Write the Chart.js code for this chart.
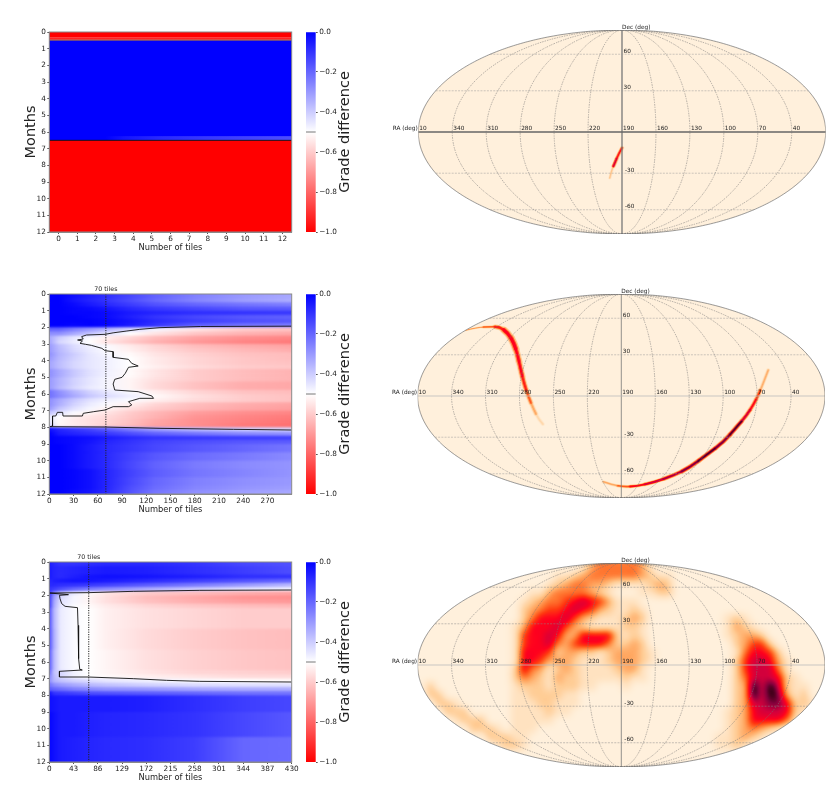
<!DOCTYPE html>
<html>
<head>
<meta charset="utf-8">
<script src="https://cdn.jsdelivr.net/npm/chart.js@4"></script>
<style>
  html, body { margin: 0; background: #fff; }
  body { position: relative; width: 830px; height: 794px; overflow: hidden; }
  canvas { position: absolute; }
</style>
</head>
<body>
<script>
// ---- heatmap data: grade difference per month band (rows) and tile count (columns)
const panel1Ticks = [0, 1, 2, 3, 4, 5, 6, 7, 8, 9, 10, 11, 12];
const panel1Tiles = [-0.5, 2.5, 3.5, 5.5, 8, 12.5];
const panel1Months = [0, 0.3, 0.38, 0.46, 0.5, 6.25, 6.5, 12];
const panel1Grade = [
  [-1, -1, -1, -1, -1, -1],
  [-0.88, -0.88, -0.88, -0.88, -0.88, -0.88],
  [-0.95, -0.95, -0.95, -0.95, -0.95, -0.95],
  [-0.7, -0.7, -0.7, -0.7, -0.7, -0.7],
  [0, 0, 0, 0, 0, 0],
  [0, 0, -0.04, -0.08, -0.11, -0.15],
  [-1, -1, -1, -1, -1, -1]
];
const panel1ContourTopX = [-0.5, 12.5];
const panel1ContourTopY = [0.49, 0.49];
const panel1ContourBottomX = [-0.5, 12.5];
const panel1ContourBottomY = [6.5, 6.5];

const panel2Ticks = [0, 30, 60, 90, 120, 150, 180, 210, 240, 270];
const panel2Tiles = [0, 12, 30, 50, 70, 100, 130, 180, 240, 300];
const panel2Months = [0, 0.25, 0.5, 0.75, 1, 1.25, 1.5, 1.75, 2, 2.25, 2.5, 2.75, 3, 3.25, 3.5, 3.75, 4, 4.25, 4.5, 4.75, 5, 5.25, 5.5, 5.75, 6, 6.25, 6.5, 6.75, 7, 7.25, 7.5, 7.75, 8, 8.25, 8.5, 8.75, 9, 9.5, 10, 10.5, 11, 11.5, 11.75, 12];
const panel2Grade = [
  [0, 0, -0.03, -0.06, -0.09, -0.14, -0.19, -0.25, -0.3, -0.33],
  [0, 0, -0.04, -0.07, -0.1, -0.15, -0.2, -0.26, -0.31, -0.34],
  [0, 0, -0.02, -0.05, -0.08, -0.12, -0.16, -0.2, -0.23, -0.25],
  [0, 0, -0.01, -0.02, -0.04, -0.08, -0.11, -0.14, -0.17, -0.18],
  [0, 0, -0.01, -0.01, -0.02, -0.05, -0.07, -0.09, -0.1, -0.11],
  [0, 0, 0, -0.01, -0.02, -0.06, -0.1, -0.14, -0.17, -0.19],
  [0, 0, 0, 0, -0.01, -0.04, -0.08, -0.12, -0.15, -0.17],
  [0, 0, -0.01, 0, -0.01, -0.05, -0.1, -0.18, -0.22, -0.24],
  [-0.2, -0.2, -0.25, -0.3, -0.35, -0.42, -0.48, -0.55, -0.6, -0.62],
  [-0.28, -0.28, -0.33, -0.38, -0.44, -0.5, -0.55, -0.61, -0.65, -0.67],
  [-0.33, -0.4, -0.45, -0.49, -0.53, -0.58, -0.63, -0.68, -0.72, -0.74],
  [-0.32, -0.42, -0.46, -0.5, -0.55, -0.6, -0.65, -0.7, -0.74, -0.76],
  [-0.3, -0.37, -0.43, -0.47, -0.49, -0.54, -0.58, -0.63, -0.66, -0.68],
  [-0.3, -0.36, -0.42, -0.46, -0.49, -0.53, -0.57, -0.61, -0.64, -0.66],
  [-0.28, -0.35, -0.4, -0.45, -0.48, -0.51, -0.55, -0.59, -0.62, -0.63],
  [-0.3, -0.36, -0.41, -0.45, -0.47, -0.5, -0.54, -0.58, -0.61, -0.63],
  [-0.32, -0.37, -0.42, -0.45, -0.47, -0.5, -0.54, -0.58, -0.61, -0.62],
  [-0.32, -0.37, -0.42, -0.45, -0.47, -0.5, -0.53, -0.57, -0.6, -0.61],
  [-0.28, -0.33, -0.39, -0.44, -0.47, -0.51, -0.55, -0.6, -0.63, -0.65],
  [-0.28, -0.33, -0.39, -0.44, -0.47, -0.51, -0.55, -0.6, -0.63, -0.65],
  [-0.3, -0.35, -0.41, -0.45, -0.48, -0.52, -0.56, -0.6, -0.63, -0.65],
  [-0.3, -0.35, -0.41, -0.45, -0.48, -0.52, -0.57, -0.62, -0.66, -0.67],
  [-0.3, -0.36, -0.42, -0.46, -0.48, -0.52, -0.57, -0.62, -0.66, -0.67],
  [-0.22, -0.28, -0.35, -0.41, -0.45, -0.49, -0.53, -0.58, -0.62, -0.63],
  [-0.22, -0.27, -0.33, -0.39, -0.43, -0.47, -0.51, -0.56, -0.6, -0.62],
  [-0.28, -0.33, -0.39, -0.44, -0.47, -0.49, -0.53, -0.57, -0.6, -0.62],
  [-0.28, -0.34, -0.41, -0.46, -0.49, -0.53, -0.58, -0.63, -0.66, -0.68],
  [-0.3, -0.38, -0.44, -0.48, -0.52, -0.56, -0.6, -0.64, -0.67, -0.69],
  [-0.38, -0.44, -0.49, -0.52, -0.55, -0.6, -0.64, -0.69, -0.72, -0.74],
  [-0.45, -0.5, -0.53, -0.55, -0.57, -0.61, -0.65, -0.71, -0.74, -0.76],
  [-0.45, -0.51, -0.54, -0.56, -0.58, -0.62, -0.67, -0.72, -0.75, -0.77],
  [-0.42, -0.52, -0.54, -0.56, -0.59, -0.63, -0.68, -0.72, -0.76, -0.78],
  [-0.03, -0.07, -0.1, -0.13, -0.17, -0.24, -0.3, -0.36, -0.4, -0.42],
  [0, -0.05, -0.07, -0.09, -0.11, -0.15, -0.19, -0.23, -0.27, -0.29],
  [0, -0.01, -0.02, -0.03, -0.05, -0.08, -0.1, -0.11, -0.12, -0.13],
  [0, -0.01, -0.02, -0.04, -0.07, -0.1, -0.13, -0.15, -0.17, -0.18],
  [0, 0, -0.02, -0.05, -0.08, -0.11, -0.14, -0.17, -0.2, -0.23],
  [0, 0, -0.02, -0.05, -0.08, -0.13, -0.17, -0.21, -0.24, -0.27],
  [0, 0, -0.02, -0.05, -0.08, -0.14, -0.19, -0.24, -0.27, -0.29],
  [0, 0, -0.01, -0.03, -0.07, -0.13, -0.18, -0.23, -0.26, -0.29],
  [0, 0, -0.01, -0.03, -0.07, -0.14, -0.2, -0.25, -0.28, -0.3],
  [0, 0, -0.01, -0.03, -0.07, -0.15, -0.21, -0.26, -0.29, -0.31],
  [0, 0, -0.02, -0.04, -0.08, -0.16, -0.23, -0.28, -0.31, -0.33]
];
const panel2ContourX = [300, 187, 137, 112, 96, 79, 69, 46, 40, 42, 35, 41, 38, 45, 52, 65, 69, 79, 79, 98, 102, 110, 98, 94, 90, 81, 79, 81, 110, 127, 129, 112, 98, 102, 98, 79, 69, 55, 42, 41, 17, 16.5, 10, 8, 4, 4, 1, 69, 137, 228, 300];
const panel2ContourY = [1.93, 1.95, 2.02, 2.12, 2.22, 2.33, 2.42, 2.46, 2.56, 2.7, 2.76, 2.82, 2.96, 3.02, 3.08, 3.26, 3.4, 3.46, 3.8, 3.92, 4.16, 4.32, 4.4, 4.76, 5, 5.12, 5.4, 5.76, 5.86, 6.12, 6.26, 6.26, 6.46, 6.66, 6.76, 6.76, 6.96, 7.06, 7.16, 7.32, 7.32, 7.1, 7.1, 7.32, 7.32, 7.92, 7.96, 7.98, 8.06, 8.12, 8.16];

const panel3Ticks = [0, 43, 86, 129, 172, 215, 258, 301, 344, 387, 430];
const panel3Tiles = [0, 8, 20, 43, 70, 100, 172, 258, 344, 430];
const panel3Months = [0, 0.25, 0.75, 1, 1.25, 1.5, 1.75, 2, 2.25, 2.5, 2.75, 4, 5.25, 6.5, 6.75, 7, 7.25, 7.5, 7.75, 8, 9, 10.5, 12];
const panel3Grade = [
  [-0.05, -0.08, -0.1, -0.1, -0.09, -0.08, -0.08, -0.1, -0.14, -0.16],
  [-0.05, -0.07, -0.08, -0.07, -0.06, -0.05, -0.06, -0.09, -0.12, -0.15],
  [-0.05, -0.07, -0.08, -0.06, -0.04, -0.03, -0.04, -0.06, -0.09, -0.1],
  [-0.08, -0.06, -0.05, -0.04, -0.04, -0.05, -0.08, -0.12, -0.16, -0.2],
  [-0.08, -0.08, -0.09, -0.1, -0.11, -0.13, -0.18, -0.24, -0.3, -0.36],
  [-0.1, -0.12, -0.15, -0.2, -0.24, -0.27, -0.33, -0.39, -0.44, -0.47],
  [-0.1, -0.25, -0.38, -0.45, -0.51, -0.55, -0.6, -0.63, -0.66, -0.68],
  [-0.1, -0.3, -0.42, -0.48, -0.52, -0.56, -0.63, -0.67, -0.71, -0.72],
  [-0.1, -0.32, -0.44, -0.48, -0.52, -0.56, -0.62, -0.66, -0.69, -0.7],
  [-0.1, -0.33, -0.45, -0.49, -0.51, -0.54, -0.58, -0.61, -0.63, -0.64],
  [-0.14, -0.35, -0.46, -0.49, -0.5, -0.53, -0.56, -0.58, -0.6, -0.6],
  [-0.14, -0.34, -0.46, -0.49, -0.5, -0.53, -0.57, -0.6, -0.62, -0.63],
  [-0.16, -0.36, -0.46, -0.49, -0.5, -0.52, -0.56, -0.59, -0.61, -0.62],
  [-0.2, -0.38, -0.42, -0.47, -0.5, -0.52, -0.55, -0.58, -0.59, -0.6],
  [-0.25, -0.36, -0.42, -0.47, -0.5, -0.51, -0.53, -0.55, -0.57, -0.57],
  [-0.27, -0.35, -0.38, -0.41, -0.43, -0.45, -0.47, -0.49, -0.5, -0.51],
  [-0.22, -0.27, -0.3, -0.33, -0.36, -0.38, -0.41, -0.43, -0.44, -0.44],
  [-0.18, -0.2, -0.22, -0.25, -0.27, -0.29, -0.3, -0.33, -0.34, -0.34],
  [-0.03, -0.1, -0.11, -0.13, -0.15, -0.16, -0.18, -0.2, -0.22, -0.23],
  [-0.03, -0.04, -0.05, -0.05, -0.05, -0.05, -0.06, -0.09, -0.12, -0.14],
  [-0.01, -0.03, -0.05, -0.05, -0.06, -0.07, -0.08, -0.1, -0.14, -0.17],
  [-0.01, -0.03, -0.05, -0.06, -0.07, -0.08, -0.09, -0.12, -0.2, -0.21]
];
const panel3ContourX = [430, 267, 149, 69, 0, 34, 18, 19, 22, 28, 50, 51, 52, 54, 58.5, 18, 18, 69, 149, 208, 267, 430];
const panel3ContourY = [1.68, 1.7, 1.76, 1.84, 1.86, 1.96, 2, 2.2, 2.5, 2.66, 2.74, 3.8, 5.8, 6.44, 6.48, 6.56, 6.9, 6.9, 7, 7.1, 7.16, 7.2];

const markedTiles = 70;
const colorbarTicks = [0, -0.2, -0.4, -0.6, -0.8, -1];
const colorbarStops = [0, -0.5, -1];
const contourLevel = -0.5;

// ---- sky maps: tile density in the Mollweide plane
const raLabels = [10, 340, 310, 280, 250, 220, 190, 160, 130, 100, 70, 40];
const decLabels = [60, 30, -30, -60];

// map 1 and 2 are thin tracks: plane x, plane y, width in px, density 0..9
const map1TrackX = [0, -0.05, -0.1, -0.14, -0.17];
const map1TrackY = [-0.22, -0.31, -0.43, -0.52, -0.64];
const map1TrackW = [0.6, 1.8, 1.9, 1.2, 0.5];
const map1TrackV = [1.5, 6, 7, 2.5, 0.5];

const map2TrackAX = [-2.17, -2.01, -1.82, -1.69, -1.57, -1.49, -1.44, -1.4, -1.35, -1.29, -1.22, -1.15, -1.09];
const map2TrackAY = [0.91, 0.95, 0.96, 0.96, 0.87, 0.73, 0.57, 0.38, 0.17, -0.01, -0.18, -0.32, -0.39];
const map2TrackAW = [0.8, 1, 1.5, 2.5, 3.6, 3.8, 3.3, 3, 2.7, 2.5, 2.2, 1.8, 1.2];
const map2TrackAV = [3, 3.5, 4.5, 5.5, 6, 6, 6, 6, 5.5, 4.5, 3, 1.5, 0.5];
const map2TrackBX = [-0.25, -0.13, 0.03, 0.21, 0.44, 0.73, 0.95, 1.19, 1.42, 1.6, 1.74, 1.84, 1.9, 1.96, 2.04];
const map2TrackBY = [-1.19, -1.23, -1.26, -1.25, -1.2, -1.1, -0.99, -0.81, -0.64, -0.43, -0.27, -0.11, 0.01, 0.15, 0.36];
const map2TrackBW = [1, 1.5, 1.6, 1.8, 2, 2.2, 2.4, 2.4, 2.4, 2.4, 2.2, 2.2, 2.2, 1.7, 1.2];
const map2TrackBV = [1.5, 3, 4.5, 6, 7, 7.5, 8, 8.5, 8, 8.5, 7, 6, 5, 3, 1.5];
const map2TrackCX = [2.13, 2.08];
const map2TrackCY = [0.91, 0.75];
const map2TrackCW = [5, 2];
const map2TrackCV = [1, 0.5];

// map 3 is a broad field, 48 columns x 24 rows over the plane
const map3Density = [
  '000000000000 000000013444 443100000000 000000000000',
  '000000000000 000011234444 443211000000 000000000000',
  '000000000000 000123443321 111232000000 000000000000',
  '000000000000 011344443210 001122000000 000000000000',
  '000000000000 123445676531 110000000000 000000000000',
  '000000000000 234556765321 121000000000 000000000000',
  '000000000000 246667532111 232000000000 121000000000',
  '000000000001 366675321111 221000000000 132100000000',
  '000000000001 566763366662 121000000000 123320000000',
  '000000000001 566743566642 232000000000 023552000000',
  '000000000001 666523322123 332100000000 014665200000',
  '000000000001 665333211123 332100000000 025776310000',
  '000000000002 643123211112 331000000000 025777410000',
  '000000000002 432132211111 211000000000 024777621000',
  '020000000001 222122211000 100000000000 023979721100',
  '022000000001 122221100000 000000000000 023979831200',
  '002210000001 112211100000 000000000000 023778862210',
  '000222000001 111211000000 000000000000 123677762100',
  '000012220001 111100000000 000000000000 123666641000',
  '000000222101 110000000000 000000000000 123432100000',
  '000000002221 100000000000 000000000001 123210000000',
  '000000000122 100000000000 000000000001 121000000000',
  '000000000000 000000000000 000000000000 000000000000',
  '000000000000 000000000000 000000000000 000000000000'
];
const densityColors = [
  [255, 240, 220], [255, 226, 192], [255, 205, 150], [255, 168, 98], [255, 118, 48],
  [255, 58, 16], [255, 0, 30], [212, 0, 60], [132, 0, 60], [40, 0, 12]
];

const FONT = '"DejaVu Sans", sans-serif';
const TICK_COLOR = '#222';
const PLOT_LEFT = 49.3, PLOT_RIGHT = 291.7, PLOT_H = 200;

function addCanvas(left, top, w, h) {
  const c = document.createElement('canvas');
  c.width = w; c.height = h;
  c.style.left = left + 'px'; c.style.top = top + 'px';
  c.style.width = w + 'px'; c.style.height = h + 'px';
  document.body.appendChild(c);
  return c;
}

// bwr_r: 0 -> blue, -0.5 -> white, -1 -> red
function gradeColor(v) {
  const t = Math.max(0, Math.min(1, -v));
  if (t < 0.5) { const k = Math.round(t * 2 * 255); return `rgb(${k},${k},255)`; }
  const k = Math.round((1 - t) * 2 * 255);
  return `rgb(255,${k},${k})`;
}

function zipXY(xs, ys) { return xs.map((x, i) => ({ x, y: ys[i] })); }

function heatPlugin(tiles, months, grade, softness) {
  return {
    id: 'heat',
    beforeDatasetsDraw(chart) {
      const { ctx, chartArea: a, scales: { x, y } } = chart;
      const off = document.createElement('canvas');
      off.width = chart.width; off.height = chart.height;
      const g = off.getContext('2d');
      const first = tiles[0], last = tiles[tiles.length - 1];
      const x0 = x.getPixelForValue(first), x1 = x.getPixelForValue(last);
      grade.forEach((row, i) => {
        const y0 = y.getPixelForValue(months[i]), y1 = y.getPixelForValue(months[i + 1]);
        const fill = g.createLinearGradient(x0, 0, x1, 0);
        row.forEach((v, j) => fill.addColorStop((tiles[j] - first) / (last - first), gradeColor(v)));
        g.fillStyle = fill;
        g.fillRect(x0, y0, x1 - x0, y1 - y0 + 0.5);
      });
      // rows are painted once, then softened a little like the resampled image
      ctx.save();
      ctx.beginPath();
      ctx.rect(a.left, a.top, a.right - a.left, a.bottom - a.top);
      ctx.clip();
      ctx.drawImage(off, 0, 0);
      ctx.filter = `blur(${softness}px)`;
      ctx.drawImage(off, 0, 0);
      ctx.restore();
    },
    afterDraw(chart) {
      const { ctx, chartArea: a } = chart;
      ctx.save();
      ctx.strokeStyle = '#8a8a8a';
      ctx.lineWidth = 1;
      ctx.strokeRect(a.left, a.top, a.right - a.left, a.bottom - a.top);
      ctx.restore();
    }
  };
}

function tilesLabelPlugin(value) {
  return {
    id: 'tilesLabel',
    afterDraw(chart) {
      const { ctx, chartArea: a, scales: { x } } = chart;
      ctx.save();
      ctx.font = '6.3px ' + FONT;
      ctx.fillStyle = TICK_COLOR;
      ctx.textAlign = 'center';
      ctx.fillText(value + ' tiles', x.getPixelForValue(value), a.top - 3);
      ctx.restore();
    }
  };
}

function makeHeat(top, opts) {
  const canvas = addCanvas(0, top - 16, 310, 16 + PLOT_H + 30);
  const datasets = opts.contours.map(c => ({
    data: c.points, showLine: true, pointRadius: 0, borderColor: c.color, borderWidth: 0.9, tension: 0
  }));
  const plugins = [heatPlugin(opts.tiles, opts.months, opts.grade, opts.softness)];
  if (opts.marker) {
    datasets.push({
      data: [{ x: opts.marker, y: 0 }, { x: opts.marker, y: 12 }],
      showLine: true, pointRadius: 0, borderColor: '#222', borderWidth: 1, borderDash: [1.2, 1.2]
    });
    plugins.push(tilesLabelPlugin(opts.marker));
  }
  return new Chart(canvas, {
    type: 'scatter',
    data: { datasets },
    plugins,
    options: {
      responsive: false,
      animation: false,
      layout: { padding: { top: 16, right: 310 - PLOT_RIGHT, left: 0, bottom: 9 } },
      plugins: { legend: { display: false }, tooltip: { enabled: false } },
      scales: {
        x: {
          type: 'linear',
          min: opts.xMin, max: opts.xMax,
          afterBuildTicks: s => { s.ticks = opts.ticks.map(value => ({ value })); },
          afterFit: s => { s.height = 21; },
          grid: { drawOnChartArea: false, tickLength: 2, tickColor: '#555' },
          border: { color: '#8a8a8a' },
          ticks: { color: TICK_COLOR, font: { size: 7.3, family: FONT }, padding: 1, maxRotation: 0, autoSkip: false },
          title: { display: true, text: 'Number of tiles', color: TICK_COLOR, font: { size: 8.3, family: FONT }, padding: { top: 0, bottom: 0 } }
        },
        y: {
          type: 'linear',
          reverse: true,
          min: 0, max: 12,
          afterBuildTicks: s => { s.ticks = panel1Ticks.map(value => ({ value })); },
          afterFit: s => { s.width = PLOT_LEFT; },
          grid: { drawOnChartArea: false, tickLength: 2, tickColor: '#555' },
          border: { color: '#8a8a8a' },
          ticks: { color: TICK_COLOR, font: { size: 7.3, family: FONT }, padding: 1.5, autoSkip: false },
          title: { display: true, text: 'Months', color: '#222', font: { size: 14.5, family: FONT }, padding: { top: 23, bottom: 0 } }
        }
      }
    }
  });
}

function makeColorbar(top) {
  const canvas = addCanvas(300, top - 16, 75, 16 + PLOT_H + 30);
  return new Chart(canvas, {
    type: 'bar',
    data: {
      labels: ['grade'],
      datasets: [{
        data: [[-1, 0]],
        barPercentage: 1,
        categoryPercentage: 1,
        backgroundColor: ({ chart }) => {
          if (!chart.chartArea) return '#fff';
          const y = chart.scales.y;
          const g = chart.ctx.createLinearGradient(0, y.getPixelForValue(0), 0, y.getPixelForValue(-1));
          colorbarStops.forEach(v => g.addColorStop(-v, gradeColor(v)));
          return g;
        }
      }]
    },
    plugins: [{
      id: 'colorbarExtras',
      afterDraw(chart) {
        const { ctx, chartArea: a, scales: { y } } = chart;
        ctx.save();
        ctx.strokeStyle = '#777';
        ctx.lineWidth = 1;
        const py = y.getPixelForValue(contourLevel);
        ctx.beginPath(); ctx.moveTo(a.left, py); ctx.lineTo(a.right, py); ctx.stroke();
        ctx.translate(45, (a.top + a.bottom) / 2);
        ctx.rotate(-Math.PI / 2);
        ctx.font = '14.5px ' + FONT;
        ctx.fillStyle = '#222';
        ctx.textAlign = 'center';
        ctx.textBaseline = 'middle';
        ctx.fillText('Grade difference', 0, 0);
        ctx.restore();
      }
    }],
    options: {
      responsive: false,
      animation: false,
      layout: { padding: { top: 16, left: 6, right: 0, bottom: 30 } },
      plugins: { legend: { display: false }, tooltip: { enabled: false } },
      scales: {
        x: { display: false },
        y: {
          position: 'right',
          min: -1, max: 0,
          afterBuildTicks: s => { s.ticks = colorbarTicks.map(value => ({ value })); },
          afterFit: s => { s.width = 59.3; },
          grid: { drawOnChartArea: false, tickLength: 2, tickColor: '#555' },
          border: { display: false },
          ticks: {
            color: TICK_COLOR, font: { size: 7.3, family: FONT }, padding: 1.5,
            callback: v => (v === 0 ? '0.0' : v.toFixed(1).replace('-', '\u2212'))
          }
        }
      }
    }
  });
}

// ---- Mollweide projection for the graticule
const SQRT2 = Math.SQRT2;
function mollweide(lonDeg, latDeg) {
  const lat = latDeg * Math.PI / 180;
  let th = lat;
  if (Math.abs(latDeg) !== 90) {
    for (let i = 0; i < 30; i++) {
      th -= (2 * th + Math.sin(2 * th) - Math.PI * Math.sin(lat)) / (2 + 2 * Math.cos(2 * th));
    }
  }
  return { x: 2 * SQRT2 / Math.PI * (lonDeg * Math.PI / 180) * Math.cos(th), y: SQRT2 * Math.sin(th) };
}
function raToLon(ra) { return ra === 10 ? -180 : (190 - ra > 180 ? 190 - ra - 360 : 190 - ra); }

function meridian(lon) {
  const pts = [];
  for (let lat = -90; lat <= 90; lat += 3) pts.push(mollweide(lon, lat));
  return pts;
}
function parallel(lat) {
  return [mollweide(-180, lat), mollweide(0, lat), mollweide(180, lat)];
}

function skyPlugin(density, tracks) {
  const lut = [];
  for (let i = 0; i < 256; i++) {
    const t = i / 255 * (densityColors.length - 1);
    const k = Math.min(densityColors.length - 2, Math.floor(t)), f = t - k;
    lut.push(densityColors[k].map((c, n) => c + (densityColors[k + 1][n] - c) * f));
  }
  return {
    id: 'sky',
    beforeDatasetsDraw(chart) {
      const { ctx, chartArea: a, scales: { x, y } } = chart;
      const w = Math.ceil(a.right - a.left), h = Math.ceil(a.bottom - a.top);
      const field = document.createElement('canvas');
      field.width = w; field.height = h;
      const f = field.getContext('2d');
      f.fillStyle = '#000';
      f.fillRect(0, 0, w, h);
      if (density) {
        const rows = density.map(r => [...r.replace(/ /g, '')].map(Number));
        const small = document.createElement('canvas');
        small.width = rows[0].length; small.height = rows.length;
        const s = small.getContext('2d');
        const img = s.createImageData(small.width, small.height);
        rows.forEach((r, j) => r.forEach((v, i) => {
          const p = (j * small.width + i) * 4, g = v / 9 * 255;
          img.data[p] = img.data[p + 1] = img.data[p + 2] = g; img.data[p + 3] = 255;
        }));
        s.putImageData(img, 0, 0);
        f.imageSmoothingEnabled = true;
        f.imageSmoothingQuality = 'high';
        f.drawImage(small, 0, 0, w, h);
      }
      f.globalCompositeOperation = 'lighten';
      f.lineCap = 'round';
      const px = (tr, i) => [x.getPixelForValue(tr.x[i]) - a.left, y.getPixelForValue(tr.y[i]) - a.top];
      const strokeTrack = (tr, widthK, valueK) => {
        for (let i = 1; i < tr.x.length - 1; i++) {
          const [ax, ay] = px(tr, i - 1), [bx, by] = px(tr, i), [cx, cy] = px(tr, i + 1);
          const g = Math.round(tr.v[i] * valueK / 9 * 255);
          f.strokeStyle = `rgb(${g},${g},${g})`;
          f.lineWidth = tr.w[i] * widthK;
          f.beginPath();
          f.moveTo(i === 1 ? ax : (ax + bx) / 2, i === 1 ? ay : (ay + by) / 2);
          f.quadraticCurveTo(bx, by, i === tr.x.length - 2 ? cx : (bx + cx) / 2, i === tr.x.length - 2 ? cy : (by + cy) / 2);
          f.stroke();
        }
      };
      tracks.forEach(tr => strokeTrack(tr, 1.9, 0.45));
      tracks.forEach(tr => strokeTrack(tr, 1, 1));
      const soft = document.createElement('canvas');
      soft.width = w; soft.height = h;
      const sc = soft.getContext('2d');
      sc.filter = density ? 'blur(2.5px)' : 'blur(0.6px)';
      sc.drawImage(field, 0, 0);
      const out = sc.getImageData(0, 0, w, h);
      for (let p = 0; p < out.data.length; p += 4) {
        const c = lut[out.data[p]];
        out.data[p] = c[0]; out.data[p + 1] = c[1]; out.data[p + 2] = c[2]; out.data[p + 3] = 255;
      }
      sc.filter = 'none';
      sc.putImageData(out, 0, 0);
      ctx.save();
      ctx.beginPath();
      ctx.ellipse((a.left + a.right) / 2, (a.top + a.bottom) / 2, (a.right - a.left) / 2, (a.bottom - a.top) / 2, 0, 0, Math.PI * 2);
      ctx.clip();
      ctx.drawImage(soft, a.left, a.top);
      ctx.restore();
    },
    afterDatasetsDraw(chart) {
      const { ctx, chartArea: a, scales: { x, y } } = chart;
      ctx.save();
      ctx.font = '5.8px ' + FONT;
      ctx.fillStyle = '#222';
      const cx = x.getPixelForValue(0), ey = y.getPixelForValue(0);
      raLabels.forEach(ra => {
        ctx.fillText(String(ra), x.getPixelForValue(mollweide(raToLon(ra), 0).x) + 1, ey - 2);
      });
      decLabels.forEach(dec => {
        const py = y.getPixelForValue(mollweide(0, dec).y);
        ctx.fillText(String(dec), cx + (dec < 0 ? 3 : 1.5), py - 1.5);
      });
      ctx.fillText('Dec (deg)', cx, a.top - 1);
      ctx.textAlign = 'right';
      ctx.fillText('RA (deg)', a.left - 0.5, ey - 2);
      ctx.restore();
    }
  };
}

function makeMap(top, centerX, axisStyle, density, tracks) {
  const left = 390;
  const halfW = 203.7;
  const canvas = addCanvas(left, top - 10, 440, 10 + 204 + 6);
  const line = (data, extra) => Object.assign({ data, showLine: true, pointRadius: 0, tension: 0.2, borderColor: '#777', borderWidth: 0.5 }, extra);
  const datasets = [];
  raLabels.filter(ra => ra !== 190).forEach(ra => {
    const lon = raToLon(ra);
    if (lon === -180) return;
    datasets.push(line(meridian(lon), { borderDash: [1.5, 1] }));
  });
  decLabels.forEach(dec => datasets.push(line(parallel(dec), { borderColor: axisStyle.grid, borderDash: [2, 1.2], tension: 0 })));
  datasets.push(line(meridian(-180), { borderColor: '#555', borderWidth: 0.6 }));
  datasets.push(line(meridian(180), { borderColor: '#555', borderWidth: 0.6 }));
  datasets.push(line(parallel(0), { borderColor: axisStyle.equator, borderWidth: axisStyle.width, tension: 0 }));
  datasets.push(line(meridian(0), { borderColor: '#777', borderWidth: axisStyle.width, tension: 0 }));
  return new Chart(canvas, {
    type: 'scatter',
    data: { datasets },
    plugins: [skyPlugin(density, tracks)],
    options: {
      responsive: false,
      animation: false,
      layout: { padding: { top: 10, bottom: 6, left: centerX - halfW - left, right: 440 - (centerX + halfW - left) } },
      plugins: { legend: { display: false }, tooltip: { enabled: false } },
      scales: {
        x: { type: 'linear', display: false, min: -2 * SQRT2, max: 2 * SQRT2 },
        y: { type: 'linear', display: false, min: -SQRT2, max: SQRT2 }
      }
    }
  });
}

document.addEventListener('DOMContentLoaded', () => {
  makeHeat(31.7, {
    xMin: -0.5, xMax: 12.5, ticks: panel1Ticks, tiles: panel1Tiles, months: panel1Months, grade: panel1Grade, softness: 0.5,
    contours: [
      { points: zipXY(panel1ContourTopX, panel1ContourTopY), color: '#8a5a4a' },
      { points: zipXY(panel1ContourBottomX, panel1ContourBottomY), color: '#111' }
    ]
  });
  makeColorbar(31.7);
  makeHeat(294, {
    xMin: 0, xMax: 300, ticks: panel2Ticks, tiles: panel2Tiles, months: panel2Months, grade: panel2Grade, softness: 1.3,
    contours: [{ points: zipXY(panel2ContourX, panel2ContourY), color: '#111' }], marker: markedTiles
  });
  makeColorbar(294);
  makeHeat(561.7, {
    xMin: 0, xMax: 430, ticks: panel3Ticks, tiles: panel3Tiles, months: panel3Months, grade: panel3Grade, softness: 1.3,
    contours: [{ points: zipXY(panel3ContourX, panel3ContourY), color: '#111' }], marker: markedTiles
  });
  makeColorbar(561.7);

  makeMap(30, 622, { width: 1.3, equator: '#666', grid: '#999' }, null, [{ x: map1TrackX, y: map1TrackY, w: map1TrackW, v: map1TrackV }]);
  makeMap(293.5, 621.3, { width: 0.8, equator: '#bbb', grid: '#999' }, null, [
    { x: map2TrackAX, y: map2TrackAY, w: map2TrackAW, v: map2TrackAV },
    { x: map2TrackBX, y: map2TrackBY, w: map2TrackBW, v: map2TrackBV },
    { x: map2TrackCX, y: map2TrackCY, w: map2TrackCW, v: map2TrackCV }
  ]);
  makeMap(563.3, 621.3, { width: 0.8, equator: '#bbb', grid: '#888' }, map3Density, []);
});
</script>
</body>
</html>
